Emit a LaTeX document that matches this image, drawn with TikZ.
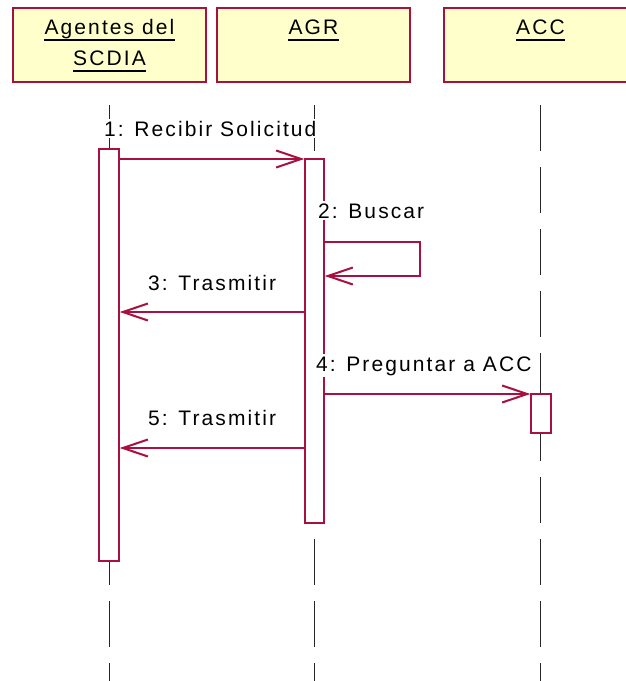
\documentclass[tikz,border=0pt]{standalone}
\usepackage{fontspec}
\setmainfont{Liberation Sans}[LetterSpace=10]
\usetikzlibrary{arrows.meta}
\definecolor{rosered}{RGB}{168,16,64}
\definecolor{headfill}{RGB}{255,255,204}
\begin{document}
\begin{tikzpicture}[x=1pt,y=-1pt,
  headbox/.style={draw=rosered,fill=headfill,line width=1.5pt,minimum width=193pt,minimum height=74pt,inner sep=0pt},
  headtext/.style={anchor=base,inner sep=0pt,font=\fontsize{21}{25}\selectfont},
  uline/.style={line width=2pt,black},
  lifeline/.style={black!85,line width=1pt,dash pattern=on 46pt off 16pt},
  actbar/.style={draw=rosered,fill=white,line width=1.5pt,minimum width=20pt,inner sep=0pt},
  msg/.style={draw=rosered,line width=1.2pt,-{Straight Barb[length=25pt,width=17pt,line width=2pt]}},
  msglabel/.style={anchor=base west,fill=white,inner xsep=0pt,inner ysep=2pt,font=\fontsize{21}{25}\selectfont}
]
\useasboundingbox (0,0) rectangle (626,681);
\clip (0,0) rectangle (626,681);
% header boxes
\node[headbox] (h1) at (109.5,45) {};
\node[headbox] (h2) at (313.5,45) {};
\node[headbox] (h3) at (540.5,45) {};
\node[headtext] (t1a) at (109.5,34) {Agentes del\ };
\node[headtext] (t1b) at (109.5,65) {SCDIA};
\node[headtext] (t2) at (313.5,34) {AGR};
\node[headtext] (t3) at (540.5,34) {ACC};
\foreach \n in {t1a,t1b,t2,t3}
  \draw[uline] ([yshift=-5.5pt]\n.base west) -- ([yshift=-5.5pt]\n.base east);
% lifelines
\coordinate (l1top) at (109,105);
\coordinate (l2top) at (314,105);
\coordinate (l3top) at (540,105);
\coordinate (l1bot) at (109,700);
\coordinate (l2bot) at (314,700);
\coordinate (l3bot) at (540,700);
\draw[lifeline] (l1top) -- (l1bot);
\draw[lifeline] (l2top) -- (l2bot);
\draw[lifeline] (l3top) -- (l3bot);
% activation bars
\node[actbar,minimum height=412pt] (bar1) at (109,355) {};
\node[actbar,minimum width=19pt,minimum height=364pt] (bar2) at (314.5,341) {};
\node[actbar,minimum height=39pt] (bar3) at (541,413.5) {};
% message levels
\coordinate (m1) at (0,159);
\coordinate (m2a) at (0,242);
\coordinate (m2b) at (0,276);
\coordinate (loopr) at (420,0);
\coordinate (m3) at (0,312);
\coordinate (m4) at (0,394);
\coordinate (m5) at (0,448);
% messages
\draw[msg] (bar1.east |- m1) -- (bar2.west |- m1);
\draw[msg] (bar2.east |- m2a) -- (loopr |- m2a) -- (loopr |- m2b) -- (bar2.east |- m2b);
\draw[msg] (bar2.west |- m3) -- (bar1.east |- m3);
\draw[msg] (bar2.east |- m4) -- (bar3.west |- m4);
\draw[msg] (bar2.west |- m5) -- (bar1.east |- m5);
% labels
\node[msglabel] (lab1) at (104,136) {1: Recibir Solicitud};
\node[msglabel] (lab2) at (318,218) {2: Buscar};
\node[msglabel] (lab3) at (148,290) {3: Trasmitir};
\node[msglabel] (lab4) at (316,371) {4: Preguntar a ACC};
\node[msglabel] (lab5) at (148,425) {5: Trasmitir};
\end{tikzpicture}
\end{document}
